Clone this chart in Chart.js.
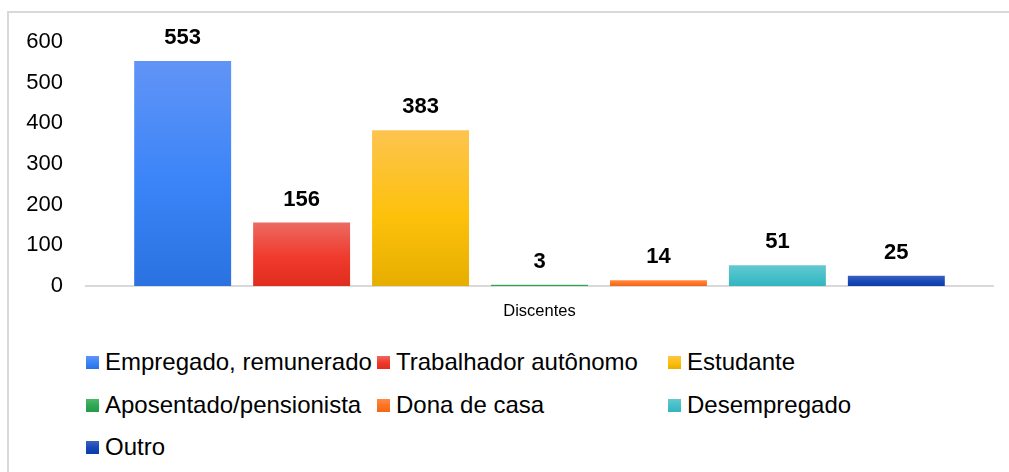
<!DOCTYPE html>
<html>
<head>
<meta charset="utf-8">
<script src="https://cdn.jsdelivr.net/npm/chart.js@4"></script>
<style>
  body { margin: 0; background: #fff; font-family: "Liberation Sans", Arial, sans-serif; }
  #frame { position: absolute; left: 7px; top: 11px; width: 1100px; height: 600px; border: 2px solid #d9d9d9; }
  #wrap { position: absolute; left: 0; top: 0; width: 1009px; height: 330px; }
  #legend { position: absolute; left: 0; top: 0; }
  .item { position: absolute; display: flex; align-items: center; font-size: 24px; color: #000; white-space: nowrap; height: 30px; }
  .box { width: 13px; height: 13px; margin-right: 6px; }
</style>
</head>
<body>
<div id="frame"></div>
<div id="wrap"><canvas id="chart"></canvas></div>
<div id="legend"></div>
<script>
// dados
const categories = ["Discentes"];
const seriesNames = ["Empregado, remunerado", "Trabalhador autônomo", "Estudante",
    "Aposentado/pensionista", "Dona de casa", "Desempregado", "Outro"];
const seriesValues = [553, 156, 383, 3, 14, 51, 25];
const yTicks = [0, 100, 200, 300, 400, 500, 600];

// cores (topo, meio, base)
const colors = [
    ["#6194f6", "#3a84f8", "#2a72e0"],
    ["#ec6a62", "#ef3a2c", "#df2d1e"],
    ["#fdc44f", "#fdc10b", "#e6ae00"],
    ["#4cb86a", "#2fa852", "#25994a"],
    ["#ff8a45", "#ff7424", "#f06814"],
    ["#64c8d0", "#45bfc8", "#32b5c0"],
    ["#3a62c0", "#1848b8", "#0a3cac"]
];

function barGradient(ctx, i) {
    const chart = ctx.chart;
    const area = chart.chartArea;
    if (!area || ctx.parsed === undefined) return colors[i][1];
    const y = chart.scales.y;
    const top = y.getPixelForValue(ctx.parsed.y);
    const bottom = y.getPixelForValue(0);
    const g = chart.ctx.createLinearGradient(0, top, 0, Math.max(bottom, top + 1));
    g.addColorStop(0, colors[i][0]);
    g.addColorStop(0.55, colors[i][1]);
    g.addColorStop(1, colors[i][2]);
    return g;
}

const datasets = seriesNames.map((name, i) => ({
    label: name,
    data: [seriesValues[i]],
    backgroundColor: ctx => barGradient(ctx, i),
    borderWidth: 0,
    categoryPercentage: 0.918,
    barPercentage: 0.815
}));

// rótulos de valor acima das barras
const valueLabels = {
    id: "valueLabels",
    afterDatasetsDraw(chart) {
        const c = chart.ctx;
        c.save();
        c.font = "bold 22px 'Liberation Sans', Arial, sans-serif";
        c.fillStyle = "#000";
        c.textAlign = "center";
        c.textBaseline = "alphabetic";
        chart.data.datasets.forEach((ds, i) => {
            const meta = chart.getDatasetMeta(i);
            meta.data.forEach((bar, j) => {
                c.fillText(ds.data[j], bar.x, bar.y - 17);
            });
        });
        c.restore();
    }
};

new Chart("chart", {
    type: "bar",
    data: { labels: categories, datasets: datasets },
    options: {
        responsive: true,
        maintainAspectRatio: false,
        animation: false,
        layout: { padding: { top: 42, right: 16, left: 0, bottom: 0 } },
        plugins: { legend: { display: false }, tooltip: { enabled: false } },
        scales: {
            x: {
                grid: { display: false, drawTicks: false },
                border: { display: true, color: "#d9d9d9", width: 2 },
                ticks: { color: "#000", padding: 16, font: { family: "'Liberation Sans', Arial", size: 16.5 } },
                afterFit: s => { s.height = 44; }
            },
            y: {
                min: 0,
                max: 600,
                afterBuildTicks: s => { s.ticks = yTicks.map(v => ({ value: v })); },
                grid: { display: false, drawTicks: false },
                border: { display: false },
                ticks: { color: "#000", padding: 23, font: { family: "'Liberation Sans', Arial", size: 22 } },
                afterFit: s => { s.width = 86; }
            }
        }
    },
    plugins: [valueLabels]
});

// legenda em grade
const legendCols = [86, 377, 668];
const legendRows = [362, 405, 447];
const legend = document.getElementById("legend");
seriesNames.forEach((name, i) => {
    const item = document.createElement("div");
    item.className = "item";
    item.style.left = legendCols[i % 3] + "px";
    item.style.top = (legendRows[Math.floor(i / 3)] - 15) + "px";
    const box = document.createElement("span");
    box.className = "box";
    box.style.background = `linear-gradient(${colors[i][0]}, ${colors[i][1]}, ${colors[i][2]})`;
    const txt = document.createElement("span");
    txt.textContent = name;
    item.appendChild(box);
    item.appendChild(txt);
    legend.appendChild(item);
});
</script>
</body>
</html>
